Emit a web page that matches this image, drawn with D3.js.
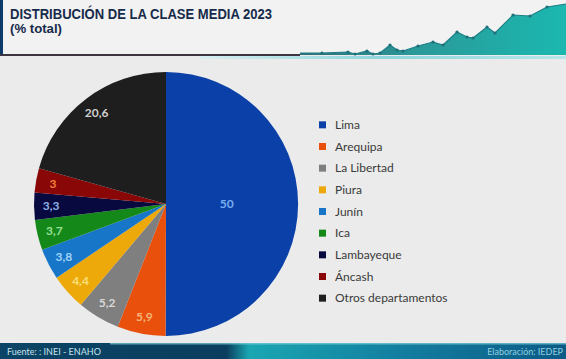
<!DOCTYPE html>
<html><head><meta charset="utf-8">
<script src="https://cdn.jsdelivr.net/npm/d3@7"></script>
<style>
html,body{margin:0;padding:0;background:#ebebeb;}
svg{display:block;}
</style></head>
<body>
<svg id="c" width="566" height="359"></svg>
<script>
const categories = ["Lima","Arequipa","La Libertad","Piura","Junín","Ica","Lambayeque","Áncash","Otros departamentos"];
const values = [50, 5.9, 5.2, 4.4, 3.8, 3.7, 3.3, 3, 20.6];
const valueLabels = ["50","5,9","5,2","4,4","3,8","3,7","3,3","3","20,6"];
const colors = ["#0b40a8","#e8500c","#7f7f7f","#eda80a","#1776c8","#15881a","#07093f","#8a0707","#1e1e1e"];
const labelColors = ["#78aef0","#f7b57a","#d8d8d8","#f8e07a","#a2d4f8","#98e098","#8fb0e8","#f0803a","#d0d0d0"];
// decorative header mountain line (x, y) in pixels of header band
const decoX = [300,322,348,355,367,373,380,390,397,403,418,433,443,457,467,473,487,495,513,530,547,566];
const decoY = [53,53,52,54,51,54,53,45,50,51,46,42,45,32,37,38,27,33,15,16,7,4];

const svg = d3.select("#c");
const W = 566, H = 359;
const defs = svg.append("defs");

// Header
svg.append("rect").attr("x",0).attr("y",0).attr("width",W).attr("height",55).attr("fill","#f2f2f2");
svg.append("rect").attr("x",0).attr("y",0).attr("width",3).attr("height",55).attr("fill","#0b3a6b");

const gArea = defs.append("linearGradient").attr("id","ga").attr("x1","0").attr("x2","1").attr("y1","0").attr("y2","0");
gArea.append("stop").attr("offset","0").attr("stop-color","#2f6f78");
gArea.append("stop").attr("offset","0.45").attr("stop-color","#2a9a9a");
gArea.append("stop").attr("offset","1").attr("stop-color","#1bb8b0");
const pts = decoX.map((x,i)=>[x,decoY[i]]);
svg.append("path").datum(pts)
  .attr("d", d3.area().x(d=>d[0]).y0(55).y1(d=>d[1]))
  .attr("fill","url(#ga)");
svg.append("path").datum(pts)
  .attr("d", d3.line().x(d=>d[0]).y(d=>d[1]))
  .attr("fill","none").attr("stroke","#1d7f86").attr("stroke-width",1.2);
svg.selectAll("circle.deco").data(pts.slice(1,-1)).join("circle")
  .attr("cx",d=>d[0]).attr("cy",d=>d[1]).attr("r",1.6).attr("fill","#1d6f78");

svg.append("rect").attr("x",0).attr("y",54).attr("width",300).attr("height",2).attr("fill","#3d3540");
const gLine = defs.append("linearGradient").attr("id","gl").attr("x1","0").attr("x2","1");
gLine.append("stop").attr("offset","0").attr("stop-color","#d8eef0");
gLine.append("stop").attr("offset","0.5").attr("stop-color","#8fd6dc");
gLine.append("stop").attr("offset","1").attr("stop-color","#b8e6ea");
svg.append("rect").attr("x",200).attr("y",56).attr("width",366).attr("height",3).attr("fill","url(#gl)");

svg.append("text").attr("x",10).attr("y",19)
  .attr("font-family","Liberation Sans, Arial, sans-serif").attr("font-weight","bold").attr("font-size",14)
  .attr("fill","#172a4a").attr("textLength",262).attr("lengthAdjust","spacingAndGlyphs")
  .text("DISTRIBUCIÓN DE LA CLASE MEDIA 2023");
svg.append("text").attr("x",10).attr("y",33)
  .attr("font-family","Liberation Sans, Arial, sans-serif").attr("font-weight","bold").attr("font-size",12)
  .attr("fill","#172a4a").attr("textLength",52).attr("lengthAdjust","spacingAndGlyphs")
  .text("(% total)");

// Pie
const cx = 166, cy = 204, r = 132;
const pie = d3.pie().sort(null).value(d=>d.v);
const data = pie(values.map((v,i)=>({v, i})));
const arc = d3.arc().innerRadius(0).outerRadius(r);
const g = svg.append("g").attr("transform",`translate(${cx},${cy})`);
g.selectAll("path").data(data).join("path")
  .attr("d",arc).attr("fill",d=>colors[d.data.i]);
g.selectAll("text").data(data).join("text")
  .attr("transform",d=>{
    const f = d.data.v >= 40 ? 0.46 : 0.87;
    const a = (d.startAngle+d.endAngle)/2;
    return `translate(${Math.sin(a)*r*f},${-Math.cos(a)*r*f})`;
  })
  .attr("text-anchor","middle").attr("dy","0.36em")
  .attr("font-family","Lato, sans-serif").attr("font-size",12).attr("font-weight","bold")
  .attr("fill",d=>labelColors[d.data.i])
  .text(d=>valueLabels[d.data.i]);

// Legend
const ly = d3.scaleBand().domain(categories).range([114,309]);
const lg = svg.append("g");
const items = lg.selectAll("g").data(categories).join("g")
  .attr("transform",d=>`translate(319,${ly(d)+ly.bandwidth()/2})`);
items.append("rect").attr("x",0).attr("y",-3.5).attr("width",7).attr("height",7)
  .attr("fill",(d,i)=>colors[i]);
items.append("text").attr("x",16).attr("dy","0.36em")
  .attr("font-family","Lato, sans-serif").attr("font-size",12).attr("fill","#3a3a3a")
  .text(d=>d);

// Footer
const gf = defs.append("linearGradient").attr("id","gf").attr("x1","0").attr("x2","1");
gf.append("stop").attr("offset","0").attr("stop-color","#0b4466");
gf.append("stop").attr("offset","0.40").attr("stop-color","#0b3e5e");
gf.append("stop").attr("offset","0.44").attr("stop-color","#1aa6b2");
gf.append("stop").attr("offset","0.7").attr("stop-color","#137fa0");
gf.append("stop").attr("offset","1").attr("stop-color","#0c5a86");
svg.append("rect").attr("x",0).attr("y",343).attr("width",W).attr("height",16).attr("fill","url(#gf)");
svg.append("rect").attr("x",110).attr("y",343).attr("width",456).attr("height",1.5).attr("fill","#7fd0d8").attr("opacity",0.7);
svg.append("text").attr("x",7).attr("y",355)
  .attr("font-family","Lato, sans-serif").attr("font-size",9).attr("fill","#c8e4ee")
  .text("Fuente: : INEI - ENAHO");
svg.append("text").attr("x",563).attr("y",355).attr("text-anchor","end")
  .attr("font-family","Lato, sans-serif").attr("font-size",9).attr("fill","#8fd0e0")
  .text("Elaboración: IEDEP");
</script>
</body></html>
